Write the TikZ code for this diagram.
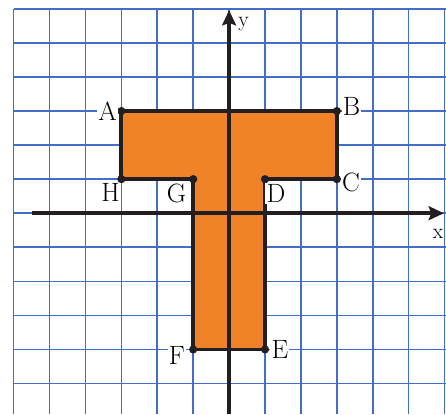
\documentclass[tikz,border=0pt]{standalone}
\usepackage{xcolor}
\usepackage{tikz}
\usetikzlibrary{positioning, arrows.meta}
\definecolor{gridblue}{RGB}{66,110,200}
\definecolor{torange}{RGB}{240,130,40}
\definecolor{inkblack}{RGB}{35,31,32}

\begin{document}
\begin{tikzpicture}[x=1cm, y=0.9485cm,
  gridline/.style={draw=gridblue, line width=1.3pt},
  axis/.style={-{Stealth[length=12pt, width=11pt, inset=2pt]},
               line width=2.8pt, draw=inkblack},
  tshape/.style={fill=torange, draw=inkblack, line width=3pt},
  vdot/.style={circle, fill=inkblack, inner sep=0pt, minimum size=6.5pt},
  ptlbl/.style={font=\fontsize{21}{23}\selectfont, fill=white, inner sep=1pt},
  axlbl/.style={font=\fontsize{17}{19}\selectfont, inner sep=1pt}
]
\useasboundingbox (-6.38,-5.90) rectangle (6.04,6.26);

% Grid
\foreach \gx in {-6,...,6}
  \draw[gridline] (\gx,-5.9) -- (\gx,6);
\foreach \gy in {-5,...,6}
  \draw[gridline] (-6,\gy) -- (6.04,\gy);

% Corners of the T
\coordinate (A) at (-3, 3);
\coordinate (B) at ( 3, 3);
\coordinate (C) at ( 3, 1);
\coordinate (D) at ( 1, 1);
\coordinate (E) at ( 1,-4);
\coordinate (F) at (-1,-4);
\coordinate (G) at (-1, 1);
\coordinate (H) at (-3, 1);

% Shape
\draw[tshape] (A) -- (B) -- (C) -- (D) -- (E) -- (F) -- (G) -- (H) -- cycle;

% Axes
\coordinate (xstart) at (-5.5, 0);
\coordinate (xend)   at (5.98, 0);
\coordinate (ystart) at (0, -5.9);
\coordinate (yend)   at (0, 5.96);
\draw[axis] (xstart) -- (xend);
\draw[axis] (ystart) -- (yend);
\node[axlbl] (xlbl) at (5.82, -0.62) {x};
\node[axlbl] (ylbl) at (0.40, 5.55) {y};

% Dots
\node[vdot] (dA) at (A) {};
\node[vdot] (dB) at (B) {};
\node[vdot] (dC) at (C) {};
\node[vdot] (dD) at (D) {};
\node[vdot] (dE) at (E) {};
\node[vdot] (dF) at (F) {};
\node[vdot] (dG) at (G) {};
\node[vdot] (dH) at (H) {};

% Labels
\node[ptlbl, left=2.5pt of A] (lA) {A};
\node[ptlbl, right=3.5pt of B, yshift=4pt] (lB) {B};
\node[ptlbl, right=3pt of C, yshift=-2.5pt] (lC) {C};
\node[ptlbl, below right=3pt and 0pt of D] (lD) {D};
\node[ptlbl, right=4pt of E] (lE) {E};
\node[ptlbl, left=5.5pt of F, yshift=-4.5pt] (lF) {F};
\node[ptlbl, below left=3pt and 4.5pt of G] (lG) {G};
\node[ptlbl, below left=2.5pt and 0pt of H] (lH) {H};

\end{tikzpicture}
\end{document}
